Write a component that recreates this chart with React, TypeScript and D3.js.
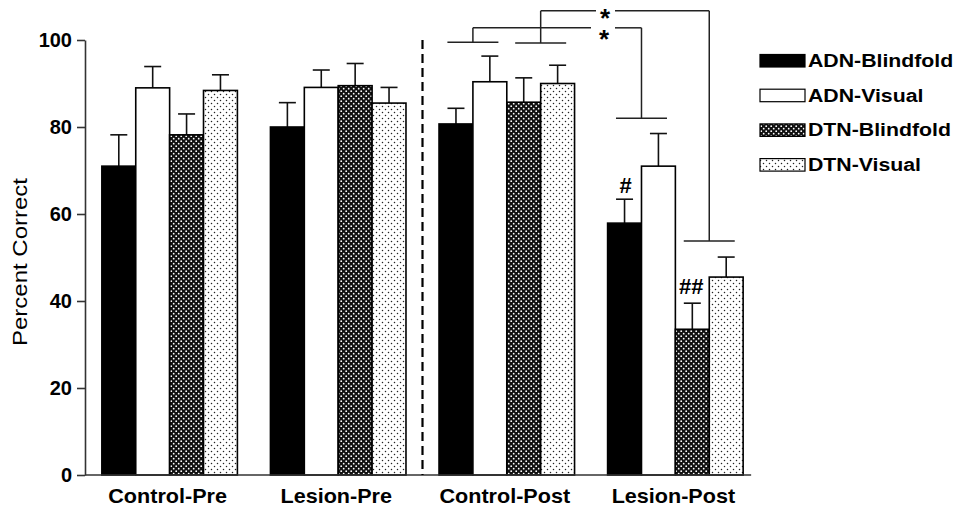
import React, { useEffect, useRef } from 'react';
import * as d3 from 'd3';

const groups = ['Control-Pre', 'Lesion-Pre', 'Control-Post', 'Lesion-Post'];
const series = ['ADN-Blindfold', 'ADN-Visual', 'DTN-Blindfold', 'DTN-Visual'];

// mean percent correct, one row per group, in series order
const means = [
  [71.0, 89.0, 78.2, 88.4],
  [80.0, 89.1, 89.5, 85.5],
  [80.7, 90.4, 85.7, 90.0],
  [57.9, 71.0, 33.5, 45.5],
];
// error bar height (upper only)
const errs = [
  [7.2, 4.9, 4.8, 3.6],
  [5.6, 4.0, 5.1, 3.6],
  [3.6, 5.9, 5.6, 4.2],
  [5.5, 7.5, 6.0, 4.6],
];

const yTicks = [0, 20, 40, 60, 80, 100];

const W = 959;
const H = 510;
const FONT = '"Liberation Sans", Arial, Helvetica, sans-serif';

export default function App() {
  const svgRef = useRef<SVGSVGElement>(null);

  useEffect(() => {
    const svg = d3.select(svgRef.current);
    svg.selectAll('*').remove();

    const y = d3.scaleLinear().domain([0, 100]).range([475, 40]);
    const x0 = d3.scaleBand().domain(groups).range([85, 760]).paddingInner(0.196).paddingOuter(0.1);
    const x1 = d3.scaleBand().domain(series).range([0, x0.bandwidth()]);

    // patterns
    const defs = svg.append('defs');
    const pB = defs.append('pattern').attr('id', 'dtnB').attr('patternUnits', 'userSpaceOnUse')
      .attr('width', 5).attr('height', 5);
    pB.append('rect').attr('width', 5).attr('height', 5).attr('fill', '#111');
    pB.append('circle').attr('cx', 1.2).attr('cy', 1.2).attr('r', 0.9).attr('fill', '#fff');
    pB.append('circle').attr('cx', 3.7).attr('cy', 3.7).attr('r', 0.9).attr('fill', '#fff');
    const pV = defs.append('pattern').attr('id', 'dtnV').attr('patternUnits', 'userSpaceOnUse')
      .attr('width', 6).attr('height', 6);
    pV.append('rect').attr('width', 6).attr('height', 6).attr('fill', '#fff');
    pV.append('circle').attr('cx', 1.5).attr('cy', 1.5).attr('r', 0.75).attr('fill', '#222');
    pV.append('circle').attr('cx', 4.5).attr('cy', 4.5).attr('r', 0.75).attr('fill', '#222');

    const fills: Record<string, string> = {
      'ADN-Blindfold': '#000',
      'ADN-Visual': '#fff',
      'DTN-Blindfold': 'url(#dtnB)',
      'DTN-Visual': 'url(#dtnV)',
    };

    // bars + error bars
    groups.forEach((g, gi) => {
      series.forEach((s, si) => {
        const bx = x0(g)! + x1(s)!;
        const bw = x1.bandwidth();
        const m = means[gi][si];
        const top = m + errs[gi][si];
        svg.append('line')
          .attr('x1', bx + bw / 2).attr('x2', bx + bw / 2)
          .attr('y1', y(m)).attr('y2', y(top))
          .attr('stroke', '#111').attr('stroke-width', 1.6);
        svg.append('line')
          .attr('x1', bx + bw / 2 - 8.5).attr('x2', bx + bw / 2 + 8.5)
          .attr('y1', y(top)).attr('y2', y(top))
          .attr('stroke', '#111').attr('stroke-width', 1.6);
        svg.append('rect')
          .attr('x', bx).attr('y', y(m))
          .attr('width', bw).attr('height', y(0) - y(m))
          .attr('fill', fills[s]).attr('stroke', '#000').attr('stroke-width', 1.6);
      });
    });

    // axes
    const yAxis = svg.append('g').attr('transform', 'translate(85,0)')
      .call(d3.axisLeft(y).tickValues(yTicks).tickSize(8).tickPadding(5).tickSizeOuter(0));
    yAxis.select('.domain').attr('stroke', '#333').attr('stroke-width', 1.6);
    yAxis.selectAll('.tick line').attr('stroke', '#333').attr('stroke-width', 1.6);
    yAxis.selectAll('.tick text')
      .attr('font-family', FONT).attr('font-size', 20).attr('font-weight', 'bold').attr('fill', '#000');

    const xEnd = x0(groups[3])! + x0.bandwidth() + 8;
    svg.append('line').attr('x1', 85).attr('x2', xEnd).attr('y1', y(0)).attr('y2', y(0))
      .attr('stroke', '#333').attr('stroke-width', 1.6);

    groups.forEach((g) => {
      const cx = x0(g)! + x0.bandwidth() / 2;
      svg.append('text')
        .attr('transform', `translate(${cx - 2},503) scale(1.08,1)`)
        .attr('text-anchor', 'middle')
        .attr('font-family', FONT).attr('font-size', 20).attr('font-weight', 'bold')
        .text(g);
    });

    svg.append('text')
      .attr('transform', 'translate(27,262) rotate(-90) scale(1.2,1)')
      .attr('text-anchor', 'middle')
      .attr('font-family', FONT).attr('font-size', 20)
      .text('Percent Correct');

    // pre / post divider
    const divX = (x0(groups[1])! + x0.bandwidth() + x0(groups[2])!) / 2;
    svg.append('line').attr('x1', divX).attr('x2', divX).attr('y1', y(100)).attr('y2', y(0))
      .attr('stroke', '#000').attr('stroke-width', 2.2).attr('stroke-dasharray', '9,5');

    // significance brackets
    const pairC = (g: string, a: string, b: string) =>
      (x0(g)! + x1(a)! + x0(g)! + x1(b)! + x1.bandwidth()) / 2;
    const line = (xa: number, ya: number, xb: number, yb: number) =>
      svg.append('line').attr('x1', xa).attr('x2', xb).attr('y1', ya).attr('y2', yb)
        .attr('stroke', '#222').attr('stroke-width', 1.5);

    const cAdn = pairC('Control-Post', 'ADN-Blindfold', 'ADN-Visual');
    const cDtn = pairC('Control-Post', 'DTN-Blindfold', 'DTN-Visual');
    const lAdn = pairC('Lesion-Post', 'ADN-Blindfold', 'ADN-Visual');
    const lDtn = pairC('Lesion-Post', 'DTN-Blindfold', 'DTN-Visual');
    const half = 25.5;
    const starX = 604;

    // ADN bracket
    line(cAdn - half, y(99.5), cAdn + half, y(99.5));
    line(cAdn, y(99.5), cAdn, y(102.8));
    line(cAdn, y(102.8), starX - 13, y(102.8));
    line(starX + 11, y(102.8), lAdn, y(102.8));
    line(lAdn, y(102.8), lAdn, y(82));
    line(lAdn - half, y(82), lAdn + half, y(82));
    // DTN bracket
    line(cDtn - half, y(99.3), cDtn + half, y(99.3));
    line(cDtn, y(99.3), cDtn, y(106.7));
    line(cDtn, y(106.7), starX - 8, y(106.7));
    line(starX + 11, y(106.7), lDtn, y(106.7));
    line(lDtn, y(106.7), lDtn, y(53.8));
    line(lDtn - half, y(53.8), lDtn + half, y(53.8));

    const mark = (tx: number, ty: number, t: string, fs: number) =>
      svg.append('text').attr('x', tx).attr('y', ty).attr('text-anchor', 'middle')
        .attr('font-family', FONT).attr('font-size', fs).attr('font-weight', 'bold').text(t);
    mark(starX + 1, y(106.7) + 16, '*', 26);
    mark(starX, y(102.8) + 20, '*', 26);
    mark(x0('Lesion-Post')! + x1('ADN-Blindfold')! + x1.bandwidth() / 2 + 1, y(means[3][0] + errs[3][0]) - 6, '#', 22);
    mark(x0('Lesion-Post')! + x1('DTN-Blindfold')! + x1.bandwidth() / 2 - 1, y(means[3][2] + errs[3][2]) - 9, '##', 22);

    // legend
    series.forEach((s, i) => {
      const ly = 67 + i * 34.7;
      svg.append('rect').attr('x', 760).attr('y', ly - 12.5).attr('width', 45).attr('height', 12.5)
        .attr('fill', fills[s]).attr('stroke', '#000').attr('stroke-width', 1.2);
      svg.append('text')
        .attr('transform', `translate(808,${ly}) scale(1.15,1)`)
        .attr('font-family', FONT).attr('font-size', 18.5).attr('font-weight', 'bold')
        .text(s);
    });
  }, []);

  return (
    <svg ref={svgRef} width={W} height={H} style={{ position: 'absolute', left: 0, top: 0, background: '#fff' }} />
  );
}
